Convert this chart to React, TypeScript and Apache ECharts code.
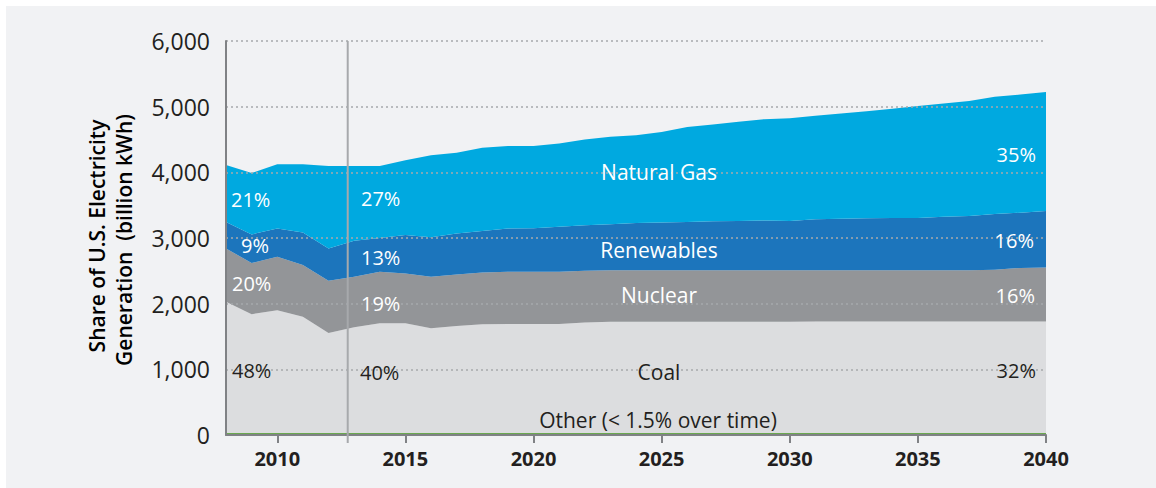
import React, { useEffect, useRef } from "react";
import * as echarts from "echarts";

const years = [
  "2008","2009","2010","2011","2012","2013","2014","2015","2016","2017","2018",
  "2019","2020","2021","2022","2023","2024","2025","2026","2027","2028","2029",
  "2030","2031","2032","2033","2034","2035","2036","2037","2038","2039","2040",
];

const other = [30,30,30,30,30,30,30,30,30,30,30,30,30,30,30,30,30,30,30,30,30,30,30,30,30,30,30,30,30,30,30,30,30];
const coal = [2000,1810,1870,1770,1525,1610,1670,1670,1595,1630,1655,1660,1660,1660,1685,1695,1695,1695,1695,1695,1695,1695,1695,1698,1700,1700,1700,1700,1700,1700,1700,1700,1700];
const nuclear = [810,780,815,790,795,770,785,760,785,785,790,795,795,795,785,785,785,785,785,785,785,785,785,782,780,780,780,780,780,780,785,815,820];
const renewables = [405,435,430,495,490,550,515,585,600,625,630,660,665,685,695,700,720,725,735,745,750,755,750,775,785,790,795,795,815,825,850,840,860];
const naturalGas = [865,935,980,1040,1255,1135,1095,1140,1250,1230,1270,1255,1250,1270,1305,1330,1335,1380,1445,1475,1510,1545,1565,1575,1600,1630,1665,1705,1725,1750,1785,1800,1815];

const yTicks = [0, 1000, 2000, 3000, 4000, 5000, 6000];
// history / projection divider sits three quarters of the way from 2012 to 2013
const dividerFrom = "2012";
const dividerTo = "2013";
const dividerFraction = 0.75;

const FONT = "'Open Sans', 'DejaVu Sans', sans-serif";
const DARK = "#231f20";

export default function App() {
  const ref = useRef<HTMLDivElement>(null);
  useEffect(() => {
    if (!ref.current) return;
    const chart = echarts.init(ref.current, undefined, { renderer: "svg" });

    const area = (name: string, data: number[], color: string, z = 2) => ({
      name,
      type: "line",
      stack: "total",
      data,
      symbol: "none",
      smooth: false,
      lineStyle: { width: 0 },
      areaStyle: { color, opacity: 1 },
      itemStyle: { color },
      z,
    });

    const txt = (
      text: string,
      x: number,
      y: number,
      fill: string,
      align: string = "left",
      size = 20
    ) => ({
      type: "text",
      x,
      y,
      z: 50,
      style: {
        text,
        fill,
        font: `${size}px ${FONT}`,
        textAlign: align,
        textVerticalAlign: "middle",
      },
    });

    chart.setOption({
      animation: false,
      backgroundColor: "#ffffff",
      grid: { left: 226, right: 110, top: 41, bottom: 53, containLabel: false },
      xAxis: {
        type: "category",
        data: years,
        boundaryGap: false,
        axisLine: { show: true, lineStyle: { color: "#808285", width: 2 } },
        axisTick: {
          show: true,
          length: 8,
          lineStyle: { color: "#808285", width: 2 },
          interval: (i: number, v: string) => Number(v) % 5 === 0,
        },
        axisLabel: {
          interval: (i: number, v: string) => Number(v) % 5 === 0,
          color: DARK,
          fontFamily: FONT,
          fontWeight: "bold",
          fontSize: 20,
          margin: 13,
        },
        splitLine: { show: false },
        z: 5,
      },
      yAxis: {
        type: "value",
        min: yTicks[0],
        max: yTicks[yTicks.length - 1],
        interval: 1000,
        axisLine: { show: true, lineStyle: { color: "#808285", width: 2 } },
        axisTick: { show: false },
        axisLabel: {
          color: DARK,
          fontFamily: FONT,
          fontSize: 23,
          margin: 16,
          formatter: (v: number) => v.toLocaleString("en-US"),
        },
        splitLine: {
          show: true,
          lineStyle: { color: "#a7a9ac", width: 1.5, type: [2, 3] },
        },
        z: 5,
      },
      series: [
        area("Other", other, "#6aa84f"),
        area("Coal", coal, "#dcdddf"),
        area("Nuclear", nuclear, "#939598"),
        area("Renewables", renewables, "#1c75bc"),
        area("Natural Gas", naturalGas, "#00a9e0"),
      ],
      graphic: [
        {
          type: "rect",
          z: -100,
          shape: { x: 6, y: 6, width: 1150, height: 482 },
          style: { fill: "#f1f2f4" },
        },
        {
          type: "text",
          x: 97,
          y: 236,
          rotation: Math.PI / 2,
          z: 50,
          style: {
            text: "Share of U.S. Electricity",
            fill: "#000000",
            font: `600 21px ${FONT}`,
            textAlign: "center",
            textVerticalAlign: "middle",
          },
        },
        {
          type: "text",
          x: 124,
          y: 240,
          rotation: Math.PI / 2,
          z: 50,
          style: {
            text: "Generation  (billion kWh)",
            fill: "#000000",
            font: `600 21px ${FONT}`,
            textAlign: "center",
            textVerticalAlign: "middle",
          },
        },
        txt("21%", 231, 199, "#ffffff"),
        txt("9%", 241, 245, "#ffffff"),
        txt("20%", 232, 283, "#ffffff"),
        txt("48%", 232, 370, DARK),
        txt("27%", 361, 198, "#ffffff"),
        txt("13%", 361, 257, "#ffffff"),
        txt("19%", 361, 303, "#ffffff"),
        txt("40%", 360, 372, DARK),
        txt("Natural Gas", 659, 172, "#ffffff", "center", 21),
        txt("Renewables", 659, 250, "#ffffff", "center", 21),
        txt("Nuclear", 659, 295, "#ffffff", "center", 21),
        txt("Coal", 659, 372, DARK, "center", 21),
        txt("Other (< 1.5% over time)", 658, 420, DARK, "center", 21),
        txt("35%", 1036, 154, "#ffffff", "right"),
        txt("16%", 1034, 240, "#ffffff", "right"),
        txt("16%", 1035, 295, "#ffffff", "right"),
        txt("32%", 1036, 370, DARK, "right"),
      ],
    });

    const a = chart.convertToPixel({ gridIndex: 0 }, [dividerFrom, yTicks[0]]) as number[];
    const b = chart.convertToPixel({ gridIndex: 0 }, [dividerTo, yTicks[0]]) as number[];
    const top = chart.convertToPixel({ gridIndex: 0 }, [dividerTo, yTicks[yTicks.length - 1]]) as number[];
    if (a && b && top) {
      const x = a[0] + (b[0] - a[0]) * dividerFraction;
      chart.setOption({
        graphic: [
          {
            id: "divider",
            type: "line",
            z: 40,
            shape: { x1: x, y1: top[1], x2: x, y2: a[1] + 8 },
            style: { stroke: "#a7a9ac", lineWidth: 2 },
          },
        ],
      });
    }

    return () => chart.dispose();
  }, []);

  return (
    <div
      ref={ref}
      style={{ position: "absolute", left: 0, top: 0, width: 1156, height: 488 }}
    />
  );
}
